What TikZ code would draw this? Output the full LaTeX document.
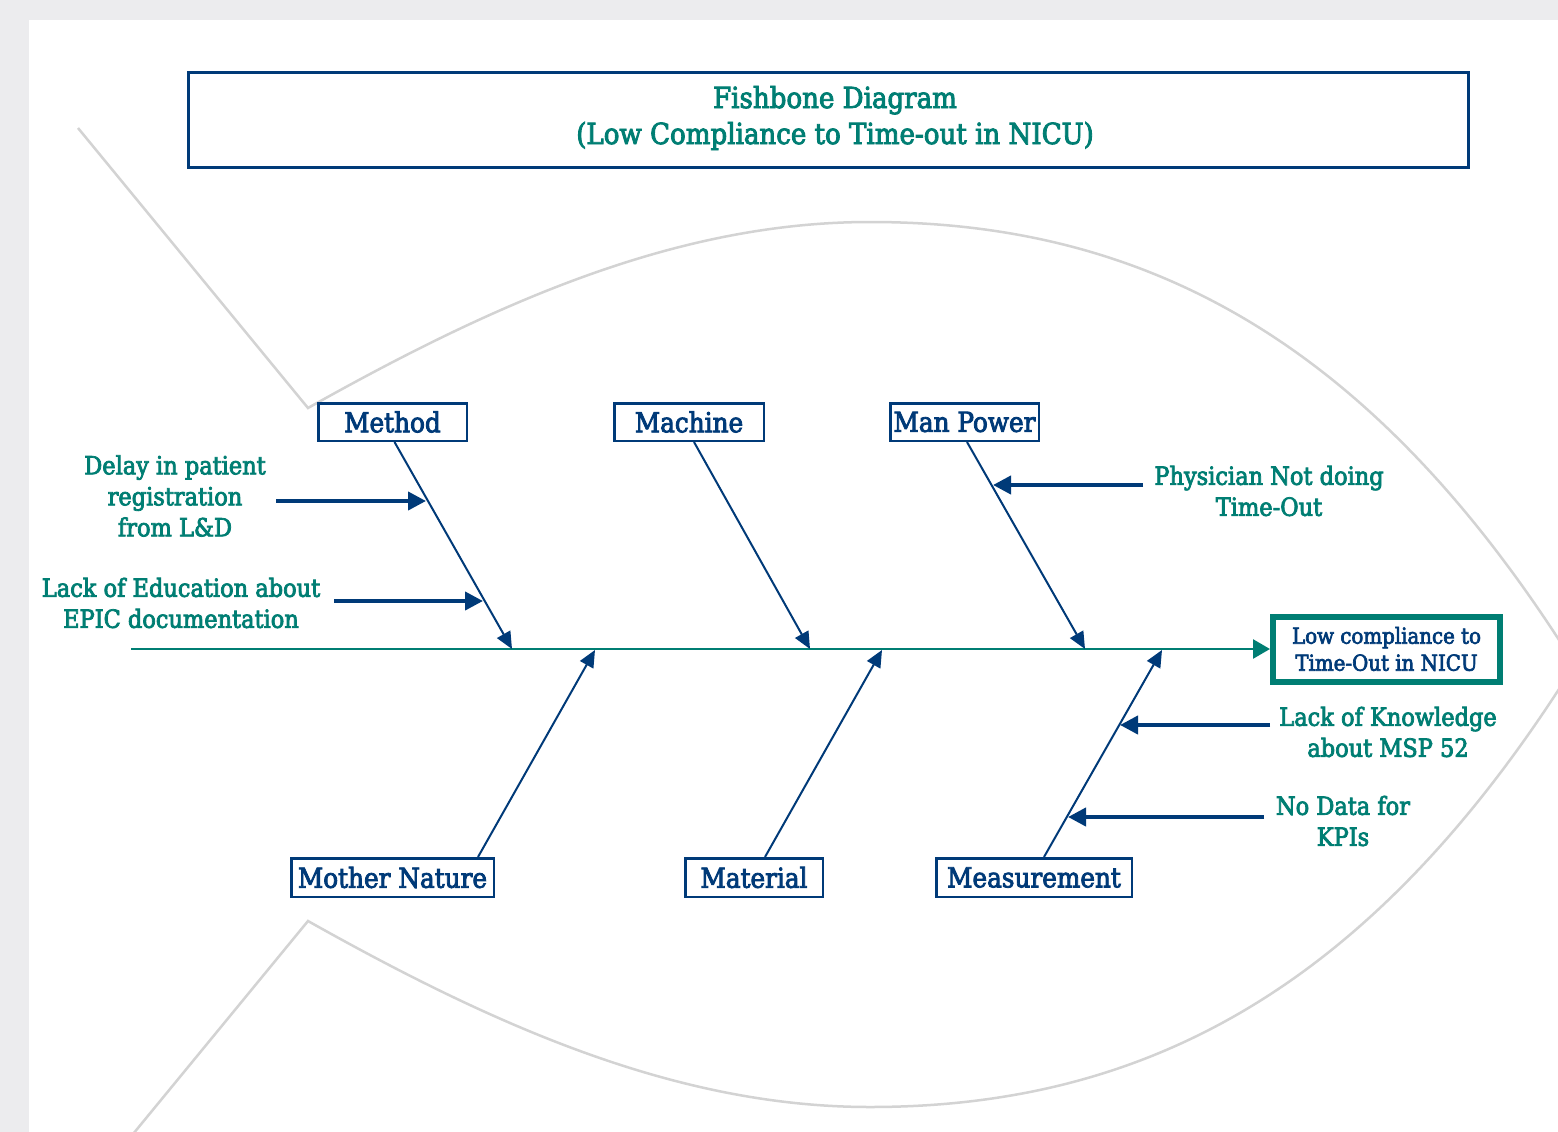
\documentclass[tikz,border=0pt]{standalone}
\usepackage{fontspec}
\setmainfont{DejaVu Serif Condensed}[FakeBold=3]
\usetikzlibrary{arrows.meta,calc}
\definecolor{teal2}{RGB}{0,126,115}
\definecolor{navy}{RGB}{0,58,120}
\definecolor{fishgrey}{RGB}{211,211,211}
\definecolor{bggrey}{RGB}{236,236,238}
\begin{document}
\begin{tikzpicture}[x=1pt,y=-1pt,
  catbox/.style={draw=navy,line width=2.5pt,fill=white,text=navy,font=\fontsize{27.5}{32}\selectfont,inner sep=0pt},
  cause/.style={text=teal2,font=\fontsize{25}{31}\selectfont,align=center,inner sep=0pt},
  bone/.style={draw=navy,line width=2pt,-{Triangle[length=17pt,width=15pt]}},
  subarrow/.style={draw=navy,line width=4pt,-{Triangle[length=18pt,width=18pt]}},
  fish/.style={draw=fishgrey,line width=2.5pt,line join=miter}]
\useasboundingbox (0,0) rectangle (1558,1132);
\fill[bggrey] (0,0) rectangle (1558,1132);
\fill[white] (29,20) rectangle (1558,1132);
\begin{scope}
\clip (29,20) rectangle (1558,1132);
\draw[fish] (78,128) -- (308,408) .. controls (500,300) and (680,222) .. (870,222) .. controls (1150,222) and (1375,345) .. (1575,665);
\draw[fish] (78,1201) -- (308,921) .. controls (500,1029) and (680,1107) .. (870,1107) .. controls (1150,1107) and (1375,984) .. (1575,664);
\end{scope}
% title
\node[draw=navy,line width=2.5pt,minimum width=1280pt,minimum height=95pt,inner sep=0pt] (title) at (828.5,120) {};
\node[text=teal2,align=center,font=\fontsize{29}{36}\selectfont,inner sep=0pt] (titletext) at (835,118) {Fishbone Diagram\\(Low Compliance to Time-out in NICU)};
% effect
\node[draw=teal2,line width=6pt,fill=white,minimum width=227pt,minimum height=65pt,text=navy,align=center,font=\fontsize{22}{27}\selectfont,inner sep=0pt] (effect) at (1386.5,649) {Low compliance to\\Time-Out in NICU};
% spine
\coordinate (tail) at (131,649);
\draw[teal2,line width=2.5pt,-{Triangle[length=17pt,width=19pt]}] (tail) -- (effect.west);
% category boxes
\node[catbox,minimum width=148.5pt,minimum height=37.5pt] (method) at (392.5,422) {Method};
\node[catbox,minimum width=149.5pt,minimum height=37.5pt] (machine) at (689,422) {Machine};
\node[catbox,minimum width=148.5pt,minimum height=37.5pt] (manpower) at (964.5,422) {Man Power};
\node[catbox,minimum width=202.5pt,minimum height=38.5pt] (mother) at (392.5,877.5) {Mother Nature};
\node[catbox,minimum width=137.5pt,minimum height=38.5pt] (material) at (754,877.5) {Material};
\node[catbox,minimum width=195.5pt,minimum height=38.5pt] (measure) at (1034,877.5) {Measurement};
% spine points
\coordinate (sp1) at (512,649);
\coordinate (sp2) at (810,649);
\coordinate (sp3) at (1085,649);
\coordinate (sp4) at (595,650);
\coordinate (sp5) at (882,650);
\coordinate (sp6) at (1162,650);
% bones
\draw[bone] ([xshift=2pt]method.south) -- (sp1);
\draw[bone] ([xshift=5pt]machine.south) -- (sp2);
\draw[bone] ([xshift=2.5pt]manpower.south) -- (sp3);
\draw[bone] ([xshift=85.5pt]mother.north) -- (sp4);
\draw[bone] ([xshift=11pt]material.north) -- (sp5);
\draw[bone] ([xshift=10pt]measure.north) -- (sp6);
% causes
\node[cause] (delay) at (175,496) {Delay in patient\\registration\\from L\&D};
\node[cause] (lackedu) at (181,603) {Lack of Education about\\EPIC documentation};
\node[cause] (physician) at (1269,491) {Physician Not doing\\Time-Out};
\node[cause] (knowledge) at (1388,732) {Lack of Knowledge\\about MSP 52};
\node[cause] (nodata) at (1343,821) {No Data for\\KPIs};
\coordinate (a1s) at (276,501); \coordinate (a1e) at (426,501);
\coordinate (a2s) at (334,601); \coordinate (a2e) at (483,601);
\coordinate (a3s) at (1143,485); \coordinate (a3e) at (993,485);
\coordinate (a4s) at (1270,725); \coordinate (a4e) at (1120,725);
\coordinate (a5s) at (1264,817); \coordinate (a5e) at (1068,817);
\draw[subarrow] (a1s) -- (a1e);
\draw[subarrow] (a2s) -- (a2e);
\draw[subarrow] (a3s) -- (a3e);
\draw[subarrow] (a4s) -- (a4e);
\draw[subarrow] (a5s) -- (a5e);
\end{tikzpicture}
\end{document}
